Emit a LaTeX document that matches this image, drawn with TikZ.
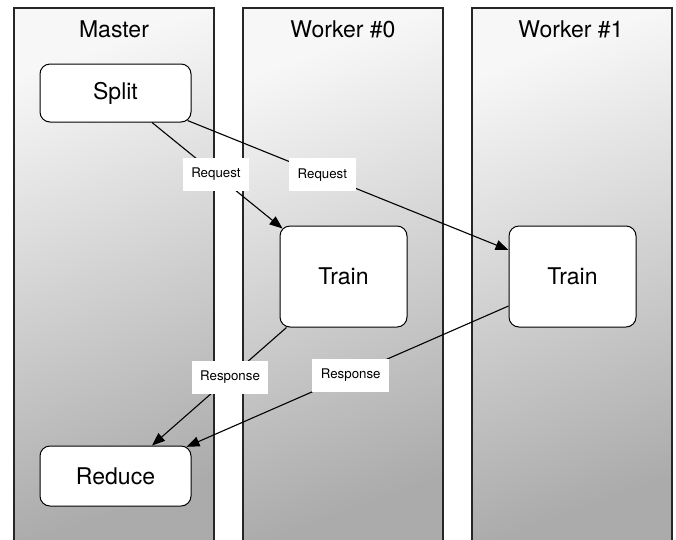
\documentclass[tikz,border=0pt]{standalone}
\usepackage{fontspec}
\setmainfont{TeX Gyre Heros}
\usetikzlibrary{arrows.meta,calc}
\tikzset{
  lane/.style={top color=black!3, bottom color=black!33, shading angle=20},
  laneborder/.style={draw=black!85, line width=1.2pt},
  title/.style={font=\fontsize{23}{26}\selectfont, anchor=base, inner sep=0pt},
  task/.style={draw=black, line width=1pt, fill=white, rounded corners=10pt,
    inner sep=0pt, font=\fontsize{23}{26}\selectfont},
  msg/.style={fill=white, inner xsep=8.5pt, inner ysep=0pt, minimum height=33pt,
    font=\fontsize{13.3}{16}\selectfont},
  flow/.style={draw=black, line width=1.1pt, -{Triangle[length=13pt,width=10pt]}}
}
\begin{document}
\begin{tikzpicture}[x=1pt,y=-1pt]
\useasboundingbox (0,0) rectangle (676,539);
% lanes
\shade[lane] (14,8) rectangle (214,545);
\shade[lane] (243,8) rectangle (443,545);
\shade[lane] (472,8) rectangle (672,545);
\draw[laneborder] (14,545) -- (14,8) -- (214,8) -- (214,545);
\draw[laneborder] (243,545) -- (243,8) -- (443,8) -- (443,545);
\draw[laneborder] (472,545) -- (472,8) -- (672,8) -- (672,545);
\node[title] (tmaster) at (114,37) {Master};
\node[title] (tw0) at (343,37) {Worker \#0};
\node[title] (tw1) at (571,37) {Worker \#1};
% tasks
\node[task, minimum width=151pt, minimum height=58pt] (split) at (115.5,93) {Split};
\node[task, minimum width=127pt, minimum height=101pt] (train0) at (343.5,276.5) {Train};
\node[task, minimum width=127pt, minimum height=101pt] (train1) at (572.5,276.5) {Train};
\node[task, minimum width=151pt, minimum height=60pt] (reduce) at (115.5,476) {Reduce};
% flows
\draw[flow] ($(split.south)+(36.5,0)$) -- node[msg, pos=0.49] (req0) {Request} ($(train0.north west)+(3,3)$);
\draw[flow] ($(split.south east)+(-4,-2)$) -- node[msg, pos=0.42] (req1) {Request} ($(train1.west)+(0,-26.5)$);
\draw[flow] ($(train0.south west)+(7,0)$) -- node[msg, pos=0.42] (resp0) {Response} ($(reduce.north)+(36.5,0)$);
\draw[flow] ($(train1.west)+(0,29.5)$) -- node[msg, pos=0.49] (resp1) {Response} ($(reduce.north east)+(-5,1.3)$);
\end{tikzpicture}
\end{document}
